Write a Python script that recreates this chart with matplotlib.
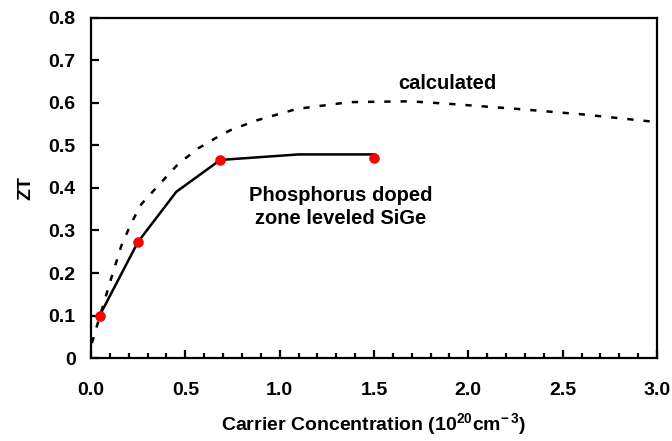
import matplotlib
matplotlib.use("Agg")
import matplotlib.pyplot as plt
from matplotlib.ticker import MultipleLocator

plt.rcParams['font.family'] = ['Liberation Sans', 'DejaVu Sans']
plt.rcParams['font.weight'] = 'bold'
plt.rcParams['mathtext.fontset'] = 'custom'
plt.rcParams['mathtext.rm'] = 'Liberation Sans:bold'
plt.rcParams['mathtext.bf'] = 'Liberation Sans:bold'
plt.rcParams['mathtext.default'] = 'bf'

# Calculated ZT (dotted)
calc_x = [0.005, 0.028, 0.10, 0.16, 0.214, 0.267, 0.355, 0.461, 0.567, 0.69, 0.744, 0.878, 1.09, 1.37, 1.69, 1.90, 2.26, 2.61, 3.0]
calc_y = [0.035, 0.070, 0.177, 0.263, 0.318, 0.362, 0.405, 0.456, 0.493, 0.525, 0.537, 0.559, 0.586, 0.602, 0.604, 0.598, 0.586, 0.573, 0.555]

# Measured line (solid)
line_x = [0.046, 0.249, 0.452, 0.685, 1.10, 1.50]
line_y = [0.100, 0.273, 0.391, 0.466, 0.479, 0.479]

# Measured points (red)
pts_x = [0.046, 0.249, 0.685, 1.50]
pts_y = [0.100, 0.273, 0.466, 0.470]

yticks = [0, 0.1, 0.2, 0.3, 0.4, 0.5, 0.6, 0.7, 0.8]
ytick_labels = ['0', '0.1', '0.2', '0.3', '0.4', '0.5', '0.6', '0.7', '0.8']
xticks = [0.0, 0.5, 1.0, 1.5, 2.0, 2.5, 3.0]
xtick_labels = ['0.0', '0.5', '1.0', '1.5', '2.0', '2.5', '3.0']

fig = plt.figure(figsize=(6.72, 4.41), dpi=100)
ax = fig.add_axes([0.1354, 0.1882, 0.8423, 0.771])

ax.plot(calc_x, calc_y, color='black', lw=1.8, linestyle=(0, (2.5, 4)))
ax.plot(line_x, line_y, color='black', lw=1.8, solid_joinstyle='miter')
ax.plot(pts_x, pts_y, 'o', color='#ff0000', markersize=7.6, markeredgewidth=0, zorder=5, clip_on=False)

ax.set_xlim(0, 3.0)
ax.set_ylim(0, 0.8)
ax.set_xticks(xticks)
ax.set_xticklabels(xtick_labels)
ax.set_yticks(yticks)
ax.set_yticklabels(ytick_labels)
ax.xaxis.set_minor_locator(MultipleLocator(0.1))

for s in ax.spines.values():
    s.set_linewidth(1.6)

ax.tick_params(axis='both', which='major', direction='in', length=5.5, width=1.6,
               labelsize=14)
ax.tick_params(axis='x', which='major', pad=17)
ax.tick_params(axis='y', which='major', pad=11)
ax.tick_params(axis='x', which='minor', direction='in', length=3.5, width=1.6)
ax.tick_params(top=False, right=False)

ax.set_xlabel('Carrier Concentration (10$^{20}$cm$^{-\\,3}$)', fontsize=14, fontweight='bold', labelpad=9)
ax.set_ylabel('ZT', fontsize=14, fontweight='bold', labelpad=10)

ax.text(1.887, 0.645, 'calculated', ha='center', va='center', fontsize=14.5, fontweight='bold')
ax.text(1.325, 0.355, 'Phosphorus doped\nzone leveled SiGe', ha='center', va='center',
        fontsize=14.5, fontweight='bold', linespacing=1.25)

fig.savefig('out.png', dpi=100)
